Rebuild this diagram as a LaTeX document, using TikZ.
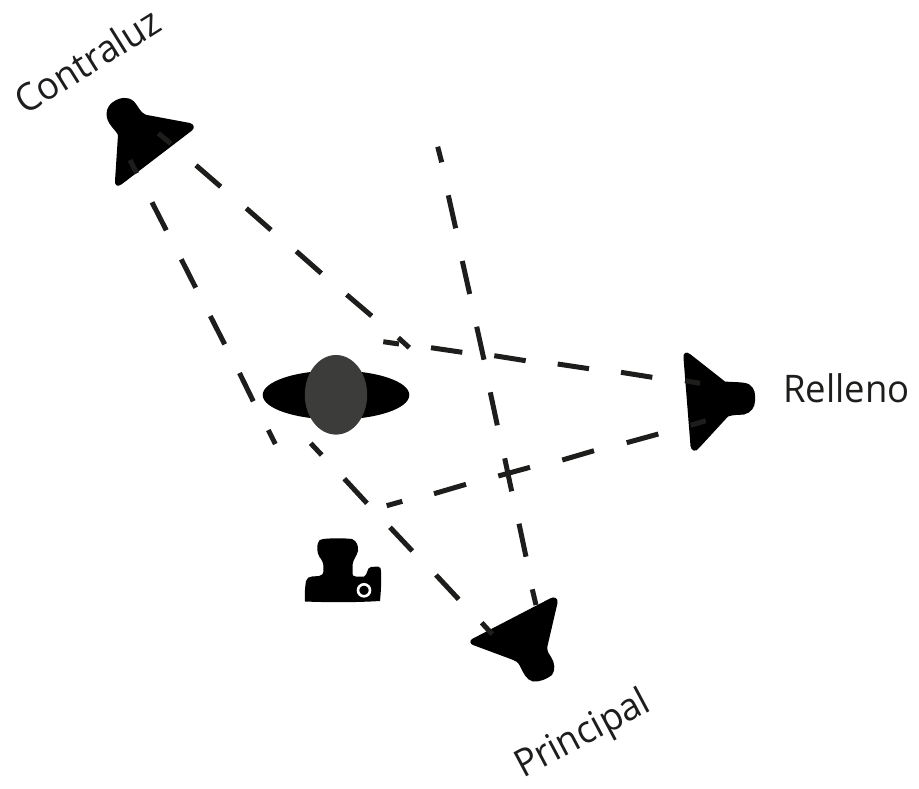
\documentclass[tikz,border=0pt]{standalone}
\usepackage{fontspec}
\setmainfont[FakeStretch=0.96]{Open Sans}
\definecolor{ink}{HTML}{1D1D1B}
\definecolor{subject}{HTML}{3C3C3B}
\tikzset{
  beam/.style={draw=ink,line width=5pt,line cap=butt},
  lamp/.style={fill=black,draw=none},
  caption/.style={text=ink,font=\fontsize{38}{38}\selectfont,inner sep=0pt},
}
\begin{document}
\begin{tikzpicture}[x=1pt,y=-1pt]
\useasboundingbox (0,0) rectangle (919,788);
% subject
\fill[black] (336,395) ellipse [x radius=73.3,y radius=24.5];
\fill[subject] (336,394.8) ellipse [x radius=31.2,y radius=39.8];
% Contraluz lamp
\path[lamp] (146,114.8) -- (190,123) .. controls (194,124) and (195,128) .. (192,130.5)
  -- (122,184) .. controls (118,187) and (114.5,186) .. (115,181)
  -- (118,135) .. controls (116,130) and (106.5,124) .. (106.5,114)
  .. controls (106.5,108) and (110,104) .. (113,102)
  .. controls (117,99) and (122,97.5) .. (126,98)
  .. controls (131,98.5) and (133.5,100.5) .. (136,104)
  .. controls (139,108) and (141,113) .. (146,114.8) -- cycle;
% Relleno lamp
\path[lamp] (725,381.5) -- (690,354) .. controls (686,351) and (683,353) .. (683.5,358)
  -- (690.5,446) .. controls (691,451) and (696,452.5) .. (699,448)
  -- (728,416.5) .. controls (733,414.5) and (740,415) .. (744,414.5)
  .. controls (751,413) and (755,407) .. (755,401)
  .. controls (755.5,394) and (755,389) .. (750,385)
  .. controls (746,381.5) and (735,382.5) .. (725,381.5) -- cycle;
% Principal lamp
\path[lamp] (550,598.5) .. controls (554,596) and (558.5,598) .. (557.5,603)
  -- (547.5,646) .. controls (546.5,651) and (549,654) .. (551,657)
  .. controls (555,663) and (555.5,670) .. (552,675)
  .. controls (547,679) and (540,682) .. (533,681.5)
  .. controls (526,680) and (523,672) .. (520,666)
  .. controls (518,662) and (515,660.5) .. (512,659.5)
  -- (473,645) .. controls (470,644) and (469.5,640.5) .. (472,639) -- cycle;
% camera
\path[lamp] (323,539) .. controls (333,538) and (343,538) .. (352,539)
  .. controls (357,541) and (358.5,546) .. (358,551)
  .. controls (357,556) and (353,559) .. (352.5,565)
  -- (352.5,574) .. controls (353,576) and (354,576.5) .. (356,576.5)
  -- (364,576.5) .. controls (368,575) and (366.5,567.5) .. (371,567)
  -- (378,566.5) .. controls (380.5,567) and (381,568.5) .. (381,571)
  .. controls (381.5,581) and (381,591) .. (380,601) .. controls (355,602.5) and (330,602.5) .. (305,601.5)
  .. controls (304.5,594) and (305,587) .. (306,581)
  .. controls (307,578) and (309,576.5) .. (312,576.5)
  -- (319,576) .. controls (322,575.5) and (323.5,574) .. (323.5,570)
  .. controls (324,563) and (322,560) .. (319.5,557)
  .. controls (316.5,552) and (317,546) .. (318,543)
  .. controls (319,540) and (320,539.5) .. (323,539) -- cycle;
\draw[white,line width=2.6pt] (364,590.3) circle [radius=6];
% beams from Contraluz to the right
\draw[beam] (158.3,133.3) -- (171,143.8);
\draw[beam] (196,165.3) -- (220.7,186.7);
\draw[beam] (246.3,208.3) -- (271,230);
\draw[beam] (296.3,251.3) -- (321.3,273.3);
\draw[beam] (346.7,294.7) -- (371.7,316);
\draw[beam] (398.3,337.7) -- (409.3,347.7);
% beams from Contraluz downwards
\draw[beam] (130,160) -- (136.7,173.3);
\draw[beam] (152,202.3) -- (166.3,230.3);
\draw[beam] (181.3,259.3) -- (195.7,287.7);
\draw[beam] (210.3,316) -- (224.7,344.3);
\draw[beam] (239.5,373) -- (253.3,401.3);
\draw[beam] (268.3,430) -- (275.3,444);
% beams from Principal to the upper left
\draw[beam] (310.7,443.3) -- (321.7,455);
\draw[beam] (344.3,478.7) -- (367,503.3);
\draw[beam] (390,527.3) -- (412.3,551);
\draw[beam] (436,575) -- (458.7,599.3);
\draw[beam] (481.7,622.7) -- (492.3,634.3);
% beams from Principal upwards
\draw[beam] (437.7,146.7) -- (441.7,162.3);
\draw[beam] (448.3,195.3) -- (455.7,228.3);
\draw[beam] (462.3,261) -- (469.7,294);
\draw[beam] (476.7,326.7) -- (484,359.7);
\draw[beam] (490.3,392.3) -- (497.3,425.3);
\draw[beam] (504.7,458.3) -- (511.7,491.3);
\draw[beam] (519,523.7) -- (526,556.7);
\draw[beam] (532.3,589.3) -- (536,605);
% beams from Relleno, upper
\draw[beam] (383.3,341.7) -- (399,344);
\draw[beam] (431,347.7) -- (462.3,352.3);
\draw[beam] (494.3,355.7) -- (525.7,360.7);
\draw[beam] (557.7,364) -- (589,368.7);
\draw[beam] (621,372.3) -- (652.3,377.3);
\draw[beam] (685,380.7) -- (700,383.3);
% beams from Relleno, lower
\draw[beam] (386.7,505.7) -- (402.3,501.3);
\draw[beam] (434,493.7) -- (466,484.3);
\draw[beam] (498.3,476) -- (530,467.3);
\draw[beam] (562.3,460) -- (594,450.7);
\draw[beam] (626.7,442.7) -- (658.3,434);
\draw[beam] (690.7,425.3) -- (705.7,420.7);
% captions
\node[caption,anchor=base west,rotate=32] (contraluz) at (25,116) {Contraluz};
\node[caption,anchor=base west,rotate=28] (principal) at (523,779) {Principal};
\node[caption,anchor=base west] (relleno) at (783,402) {Relleno};
\end{tikzpicture}
\end{document}
